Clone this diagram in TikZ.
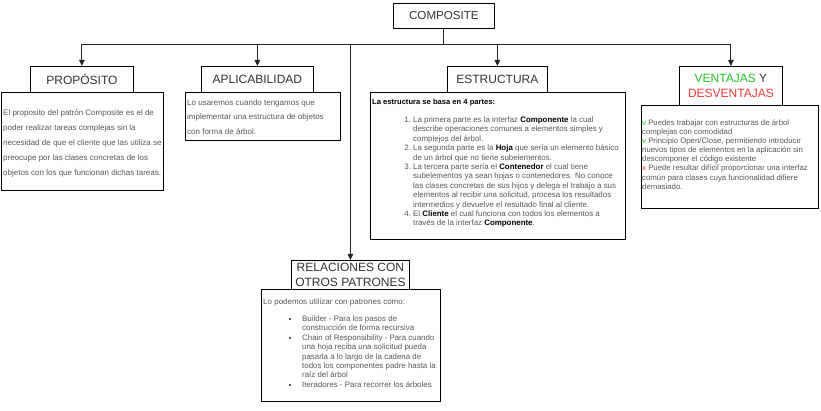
\documentclass[tikz,border=0pt]{standalone}
\usepackage{fontspec}
\setmainfont{Liberation Sans}
\usetikzlibrary{arrows.meta}
\definecolor{bodygray}{HTML}{585858}
\definecolor{titlegray}{HTML}{333333}
\definecolor{vgreen}{HTML}{22C322}
\definecolor{vred}{HTML}{F03A3A}
\tikzset{
  tbox/.style={draw=black, line width=0.8pt, fill=white, inner sep=0pt, anchor=north west,
    text=titlegray, font=\fontsize{12}{15}\selectfont, align=center},
  bbox/.style={draw=black, line width=0.8pt, fill=white, inner sep=0pt, anchor=north west},
  btext/.style={anchor=north west, inner sep=0pt, text=bodygray, align=left},
  conn/.style={draw=black!85, line width=1pt},
  arr/.style={conn, -{Triangle[width=5.5pt,length=6pt]}}
}
\newcommand{\mybul}{\llap{\raisebox{1.7pt}{\rule{2pt}{2pt}}\hspace{11pt}}}
\newcommand{\mynum}[1]{\llap{#1\ }}
\newcommand{\mykey}[1]{\textcolor{black}{\textbf{#1}}}
\begin{document}
\begin{tikzpicture}[x=1pt,y=-1pt]
\useasboundingbox (0,0) rectangle (821,411);
% top
\node[tbox, minimum width=101pt, minimum height=25pt, font=\fontsize{11.6}{13}\selectfont] (comp) at (393,3) {COMPOSITE};
% body boxes
\node[bbox, minimum width=162pt, minimum height=98pt] (propb) at (1,92) {};
\node[bbox, minimum width=155pt, minimum height=48pt] (aplb) at (185,92) {};
\node[bbox, minimum width=255pt, minimum height=147pt] (estb) at (370,92) {};
\node[bbox, minimum width=177pt, minimum height=103pt] (venb) at (641,105) {};
\node[bbox, minimum width=179pt, minimum height=112pt] (relb) at (261,289) {};
% titles
\node[tbox, minimum width=103pt, minimum height=26pt] (prop) at (30,66) {PROPÓSITO};
\node[tbox, minimum width=112pt, minimum height=26pt] (apl) at (201,66) {APLICABILIDAD};
\node[tbox, minimum width=100pt, minimum height=26pt] (est) at (447,66) {ESTRUCTURA};
\node[tbox, minimum width=103pt, minimum height=39pt] (ven) at (679,66) {\textcolor{vgreen}{VENTAJAS} Y\\\textcolor{vred}{DESVENTAJAS}};
\node[tbox, minimum width=118pt, minimum height=29pt] (rel) at (291,260) {RELACIONES CON\\OTROS PATRONES};
% connectors
\draw[conn] (comp.south) -- ++(0,16) coordinate (hub);
\draw[arr] (hub) -| (prop.north);
\draw[arr] (hub) -| (apl.north);
\draw[arr] (hub) -| (est.north);
\draw[arr] (hub) -| (ven.north);
\draw[arr] (hub) -| (rel.north);
% texts
\node[btext, font=\fontsize{8}{15}\selectfont] (propt) at (3,109.5) {El proposito del patrón Composite es el de\\poder realizar tareas complejas sin la\\necesidad de que el cliente que las utiliza se\\preocupe por las clases concretas de los\\objetos con los que funcionan dichas tareas.};
\node[btext, font=\fontsize{8}{14.5}\selectfont] (aplt) at (187,99.5) {Lo usaremos cuando tengamos que\\implementar una estructura de objetos\\con forma de árbol.};
\node[btext, font=\fontsize{7.6}{9}\selectfont\bfseries, text=black] (esth) at (372,98.5) {La estructura se basa en 4 partes:};
\node[btext, font=\fontsize{7.9}{9.4}\selectfont] (estt) at (413,116.5) {\mynum{1.}La primera parte es la interfaz \mykey{Componente} la cual\\describe operaciones comunes a elementos simples y\\complejos del árbol.\\\mynum{2.}La segunda parte es la \mykey{Hoja} que sería un elemento básico\\de un árbol que no tiene subelementos.\\\mynum{3.}La tercera parte sería el \mykey{Contenedor} el cual tiene\\subelementos ya sean hojas o contenedores. No conoce\\las clases concretas de sus hijos y delega el trabajo a sus\\elementos al recibir una solicitud, procesa los resultados\\intermedios y devuelve el resultado final al cliente.\\\mynum{4.}El \mykey{Cliente} el cual funciona con todos los elementos a\\través de la interfaz \mykey{Componente}.};
\node[btext, font=\fontsize{7.8}{9.1}\selectfont] (vent) at (642,119.5) {\textcolor{vgreen}{v} Puedes trabajar con estructuras de árbol\\complejas con comodidad\\\textcolor{vgreen}{v} Principio Open/Close, permitiendo introducir\\nuevos tipos de elementos en la aplicación sin\\descomponer el código existente\\\textcolor{vred}{x} Puede resultar difícil proporcionar una interfaz\\común para clases cuya funcionalidad difiere\\demasiado.};
\node[btext, font=\fontsize{8}{9}\selectfont] (relh) at (263,298.5) {Lo podemos utilizar con patrones como:};
\node[btext, font=\fontsize{7.9}{9.4}\selectfont] (relt) at (302,315.5) {\mybul Builder - Para los pasos de\\construcción de forma recursiva\\\mybul Chain of Responsibility - Para cuando\\una hoja reciba una solicitud pueda\\pasarla a lo largo de la cadena de\\todos los componentes padre hasta la\\raíz del árbol\\\mybul Iteradores - Para recorrer los árboles};
\end{tikzpicture}
\end{document}
